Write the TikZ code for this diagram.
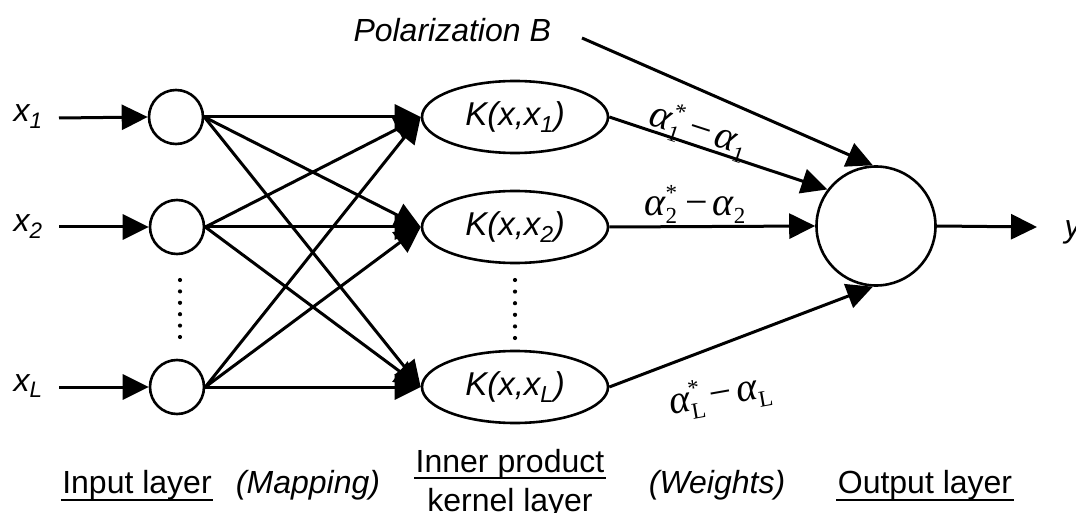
\documentclass[tikz,border=0pt]{standalone}
\usepackage{fontspec}
\setmainfont{Liberation Sans}
\newfontfamily\serifgr{Liberation Serif}
\usetikzlibrary{arrows.meta,shapes.geometric}
\newcommand{\alss}[1]{{\serifgr\itshape α}\rlap{\raisebox{-8pt}{\fontsize{23}{23}\selectfont\serifgr #1}}\raisebox{15pt}{\fontsize{23}{23}\selectfont\serifgr *}\kern 3pt}
\newcommand{\alsb}[1]{{\serifgr\itshape α}\raisebox{-8pt}{\fontsize{23}{23}\selectfont\serifgr #1}}
\newcommand{\mns}{\kern5pt{\serifgr −}\kern5pt}
\begin{document}
\begin{tikzpicture}[x=1pt,y=-1pt,line width=3pt,
  arr/.style={-{Triangle[length=26pt,width=25pt]}},
  incirc/.style={circle,draw,line width=2.6pt,minimum size=54pt,inner sep=0pt},
  kern/.style={ellipse,draw,line width=2.6pt,minimum width=186pt,minimum height=72pt,inner sep=0pt,font=\fontsize{33}{38}\selectfont\itshape},
  outcirc/.style={circle,draw,line width=2.6pt,minimum size=119pt,inner sep=0pt},
  lbl/.style={inner sep=0pt,anchor=base,font=\fontsize{32}{38}\selectfont},
  ilbl/.style={inner sep=0pt,anchor=base west,font=\fontsize{32}{38}\selectfont\itshape},
  wlbl/.style={inner sep=0pt,font=\fontsize{40}{44}\selectfont},
  uline/.style={line width=2pt}]
\useasboundingbox (0,0) rectangle (1076,513);
% input layer
\node[incirc] (i1) at (176,117) {};
\node[incirc] (i2) at (177,227) {};
\node[incirc] (i3) at (177,387) {};
\node[ilbl] (lx1) at (12,122) {x\textsubscript{\itshape 1}};
\node[ilbl] (lx2) at (12,231) {x\textsubscript{\itshape 2}};
\node[ilbl] (lx3) at (12,391) {x\textsubscript{\itshape L}};
\coordinate (s1) at (59,118);
\coordinate (s2) at (59,227);
\coordinate (s3) at (59,387);
\foreach \i in {1,2,3} \draw[arr] (s\i) -- (i\i.west);
% kernel layer
\node[kern] (k1) at (515,117) {K(x,x\textsubscript{1})};
\node[kern] (k2) at (515,227) {K(x,x\textsubscript{2})};
\node[kern] (k3) at (515,387) {K(x,x\textsubscript{L})};
\foreach \i in {1,2,3} \foreach \k in {1,2,3} \draw[arr] (i\i.east) -- (k\k.west);
% dots
\foreach \j in {0,...,5} {
  \fill (180,{280+11.4*\j}) circle (2.1pt);
  \fill (515,{280+11.6*\j}) circle (2.1pt);
}
% output
\node[outcirc] (out) at (876,226) {};
\draw[arr] (k1.east) -- (out.143);
\draw[arr] (k2.east) -- (out.west);
\draw[arr] (k3.east) -- (out.-93);
\node[ilbl] (pol) at (352,42) {Polarization B};
\coordinate (pb) at (582,38);
\draw[arr] (pb) -- (out.93);
\coordinate (yo) at (1037,227);
\draw[arr] (out.east) -- (yo);
\node[ilbl] (ylab) at (1063,237) {y};
% weights
\node[wlbl,rotate=-18] (w1) at (699,130) {\alss{1}\mns\alsb{1}};
\node[wlbl] (w2) at (695,204) {\alss{2}\mns\alsb{2}};
\node[wlbl,rotate=10] (w3) at (720,395) {\alss{L}\mns\alsb{L}};
% bottom labels
\node[lbl] (il) at (137,493) {Input layer};
\draw[uline] ([yshift=-7pt]il.base west) -- ([yshift=-7pt]il.base east);
\node[lbl,font=\fontsize{32}{38}\selectfont\itshape] (mp) at (308,493) {(Mapping)};
\node[lbl] (ip) at (510,472) {Inner product};
\draw[uline] ([yshift=-6pt]ip.base west) -- ([yshift=-6pt]ip.base east);
\node[lbl] (kl) at (510,511) {kernel layer};
\node[lbl,font=\fontsize{32}{38}\selectfont\itshape] (wt) at (717,493) {(Weights)};
\node[lbl] (ol) at (925,493) {Output layer};
\draw[uline] ([yshift=-7pt]ol.base west) -- ([yshift=-7pt]ol.base east);
\end{tikzpicture}
\end{document}
